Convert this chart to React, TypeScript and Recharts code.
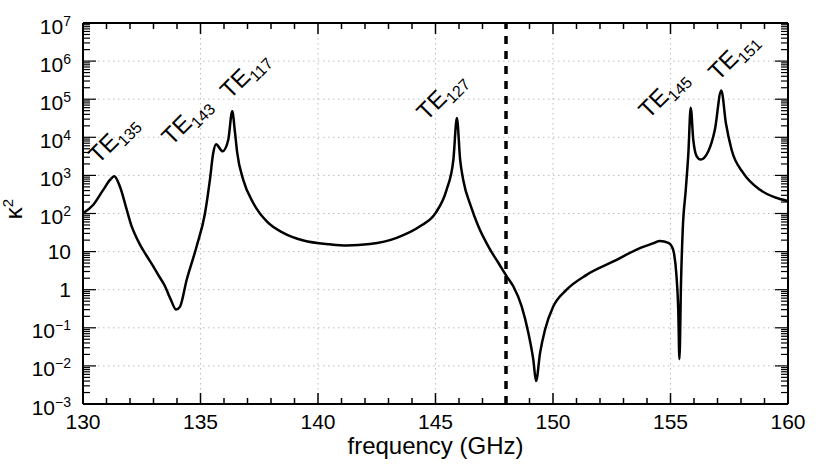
import { LineChart, Line, XAxis, YAxis, CartesianGrid, ReferenceLine, ReferenceDot } from "recharts";

// frequency (GHz) and kappa^2
const freq = [
  130.0, 130.44, 130.86, 131.15, 131.33, 131.57, 131.86, 132.07, 132.2, 132.43,
  132.7, 132.99, 133.2, 133.49, 133.65, 133.77, 133.96, 134.13, 134.41, 134.84,
  135.19, 135.4, 135.54, 135.66, 135.94, 136.18, 136.35, 136.47, 136.56, 136.82,
  137.25, 137.82, 138.52, 139.38, 140.51, 141.22, 142.21, 143.35, 144.34, 145.0,
  145.47, 145.76, 145.91, 146.05, 146.18, 146.5, 146.8, 147.3, 147.7, 148.03,
  148.31, 148.67, 148.95, 149.16, 149.28, 149.45, 149.66, 150.01, 150.58, 151.43,
  152.57, 153.7, 154.27, 154.55, 154.91, 155.05, 155.15, 155.25, 155.33, 155.38,
  155.45, 155.52, 155.65, 155.76, 155.86, 155.97, 156.11, 156.28, 156.61, 156.89,
  157.16, 157.36, 157.6, 158.1, 158.81, 159.66, 160.0,
];
const kappa2 = [
  102, 170, 417, 760, 950, 510, 126, 46, 29.5, 15,
  7.9, 4.1, 2.45, 1.23, 0.72, 0.49, 0.3, 0.36, 1.8, 14,
  100, 760, 3800, 6600, 4300, 8500, 48000, 13000, 4000, 760,
  186, 62, 31, 19.5, 15.5, 14.5, 15.8, 23, 46, 102,
  417, 2570, 32000, 2500, 760, 158, 50, 12, 4.8, 2.24,
  1.23, 0.36, 0.074, 0.0148, 0.004, 0.022, 0.089, 0.36, 1.0, 2.45,
  5.5, 12.3, 16.6, 19, 17, 13.8, 9, 2.5, 0.3, 0.015,
  1.8, 37, 420, 3800, 60000, 8500, 3200, 2600, 4300, 16000,
  170000, 23000, 4700, 1150, 420, 240, 214,
];

const modeNames = ["135", "143", "117", "127", "145", "151"];
const modeFreq = [130.65, 133.77, 136.26, 144.62, 154.06, 157.03];
const modeK2 = [1900, 5750, 95000, 25700, 28800, 288000];

const xMajor = [130, 135, 140, 145, 150, 155, 160];
const yMajor = [1e-3, 1e-2, 1e-1, 1, 10, 1e2, 1e3, 1e4, 1e5, 1e6, 1e7];
const yTickBase = ["10", "10", "10", "1", "10", "10", "10", "10", "10", "10", "10"];
const yTickSup = ["\u22123", "\u22122", "\u22121", "", "", "2", "3", "4", "5", "6", "7"];
const cutFreq = 148;

const xMinor: number[] = [];
for (let f = 130; f <= 160; f++) xMinor.push(f);
const yMinor: number[] = [];
yMajor.forEach((d, i) => {
  if (i === yMajor.length - 1) { yMinor.push(d); return; }
  for (let m = 1; m <= 9; m++) yMinor.push(+(m * d).toPrecision(3));
});

const data = freq.map((f, i) => ({ f, k2: kappa2[i] }));

const FONT = "'Liberation Sans', Arial, Helvetica, sans-serif";
const isDecade = (v: number) => Math.abs(Math.log10(v) - Math.round(Math.log10(v))) < 1e-6;

function BottomTick(props: any) {
  const { x, y, payload } = props;
  const major = xMajor.includes(payload.value);
  return (
    <g>
      <line x1={x} x2={x} y1={y} y2={y - (major ? 11 : 6)} stroke="#000" strokeWidth={1.5} />
      {major && (
        <text x={x} y={y + 25} textAnchor="middle" fontSize={21} fontFamily={FONT} fill="#000">
          {payload.value}
        </text>
      )}
    </g>
  );
}

function TopTick(props: any) {
  const { x, y, payload } = props;
  const major = xMajor.includes(payload.value);
  return <line x1={x} x2={x} y1={y} y2={y + (major ? 11 : 6)} stroke="#000" strokeWidth={1.5} />;
}

function LeftTick(props: any) {
  const { x, y, payload } = props;
  const v = payload.value;
  const major = isDecade(v);
  const i = major ? yMajor.findIndex((d) => Math.abs(Math.log10(d) - Math.log10(v)) < 1e-6) : -1;
  const sup = i >= 0 ? yTickSup[i] : "";
  return (
    <g>
      <line x1={x} x2={x + (major ? 13 : 7)} y1={y} y2={y} stroke="#000" strokeWidth={1.2} />
      {i >= 0 && (
        <text x={x - 12} y={y + (sup ? 10.5 : 7.5)} textAnchor="end" fontSize={21} fontFamily={FONT} fill="#000">
          {yTickBase[i]}
          {sup && (
            <tspan dy={-8} fontSize={14}>
              {sup}
            </tspan>
          )}
        </text>
      )}
    </g>
  );
}

function RightTick(props: any) {
  const { x, y, payload } = props;
  const major = isDecade(payload.value);
  return <line x1={x} x2={x - (major ? 13 : 7)} y1={y} y2={y} stroke="#000" strokeWidth={1.2} />;
}

// drawn as the dot shape so it gets cx / cy of the mode position
function ModeLabel(props: any) {
  const x = Number(props.cx);
  const y = Number(props.cy);
  if (!isFinite(x) || !isFinite(y)) return null;
  return (
    <g transform={`translate(${x} ${y}) rotate(-45)`}>
      <text x={0} y={0} fontSize={24} fontFamily={FONT} fill="#000">
        TE
        <tspan dy={6} fontSize={16}>
          {props.n}
        </tspan>
      </text>
    </g>
  );
}

function KappaLabel() {
  return (
    <text transform="translate(22,209) rotate(-90)" textAnchor="middle" fontSize={24} fontFamily={FONT} fill="#000">
      κ
      <tspan dy={-9} fontSize={15}>
        2
      </tspan>
    </text>
  );
}

export default function App() {
  return (
    <div style={{ position: "absolute", left: 0, top: 0, width: 830, height: 465, background: "#fff", fontFamily: FONT }}>
      <LineChart width={830} height={465} data={data} margin={{ top: 21, right: 40, bottom: 0, left: 0 }}>
        <XAxis
          xAxisId="b"
          dataKey="f"
          type="number"
          domain={[130, 160]}
          allowDataOverflow
          ticks={xMinor}
          interval={0}
          tickSize={0}
          tickMargin={0}
          tickLine={false}
          height={61}
          axisLine={{ stroke: "#000", strokeWidth: 2 }}
          tick={<BottomTick />}
          label={{ value: "frequency (GHz)", position: "insideBottom", offset: 11, fontSize: 24, fill: "#000", fontFamily: FONT }}
        />
        <XAxis
          xAxisId="t"
          orientation="top"
          dataKey="f"
          type="number"
          domain={[130, 160]}
          allowDataOverflow
          ticks={xMinor}
          interval={0}
          tickSize={0}
          tickMargin={0}
          tickLine={false}
          height={2}
          axisLine={{ stroke: "#000", strokeWidth: 2 }}
          tick={<TopTick />}
        />
        <YAxis
          yAxisId="l"
          type="number"
          scale="log"
          domain={[1e-3, 1e7]}
          allowDataOverflow
          ticks={yMinor}
          interval={0}
          tickSize={0}
          tickMargin={0}
          tickLine={false}
          width={83}
          axisLine={{ stroke: "#000", strokeWidth: 2 }}
          tick={<LeftTick />}
          label={<KappaLabel />}
        />
        <YAxis
          yAxisId="r"
          orientation="right"
          type="number"
          scale="log"
          domain={[1e-3, 1e7]}
          allowDataOverflow
          ticks={yMinor}
          interval={0}
          tickSize={0}
          tickMargin={0}
          tickLine={false}
          width={2}
          axisLine={{ stroke: "#000", strokeWidth: 2 }}
          tick={<RightTick />}
        />
        <CartesianGrid
          xAxisId="b"
          yAxisId="l"
          stroke="#bdbdbd"
          strokeDasharray="1.5 3.5"
          horizontalValues={yMajor.slice(1, -1)}
          verticalValues={xMajor.slice(1, -1)}
        />
        <ReferenceLine xAxisId="b" yAxisId="l" x={cutFreq} stroke="#000" strokeWidth={3.5} strokeDasharray="8 7" />
        <Line xAxisId="t" yAxisId="r" dataKey="k2" stroke="none" dot={false} activeDot={false} isAnimationActive={false} />
        <Line
          xAxisId="b"
          yAxisId="l"
          dataKey="k2"
          type="monotone"
          stroke="#000"
          strokeWidth={2.5}
          dot={false}
          activeDot={false}
          isAnimationActive={false}
        />
        {modeNames.map((n, i) => (
          <ReferenceDot
            key={n}
            xAxisId="b"
            yAxisId="l"
            x={modeFreq[i]}
            y={modeK2[i]}
            r={1}
            shape={<ModeLabel n={n} />}
          />
        ))}
      </LineChart>
    </div>
  );
}
